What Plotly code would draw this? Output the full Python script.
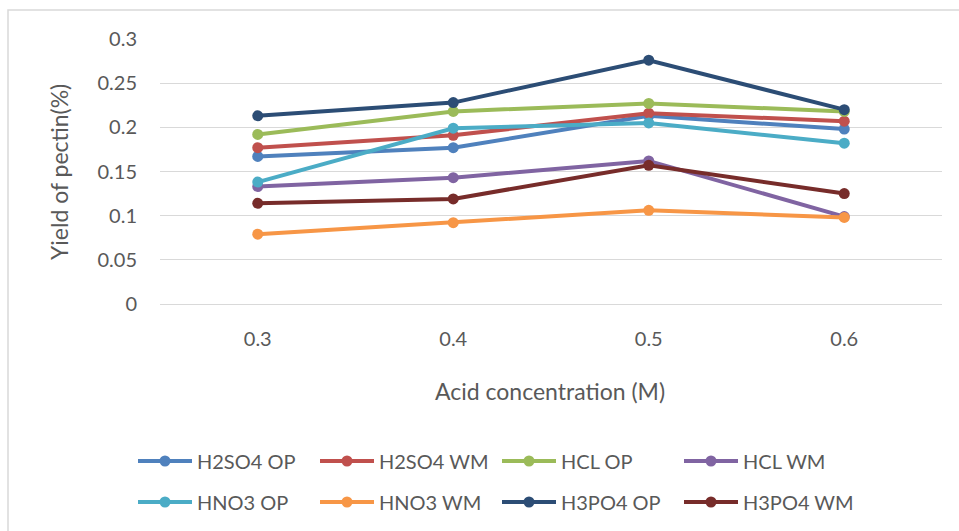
import plotly.graph_objects as go

categories = ["0.3", "0.4", "0.5", "0.6"]
series_names = ["H2SO4 OP", "H2SO4 WM", "HCL OP", "HCL WM",
                "HNO3 OP", "HNO3 WM", "H3PO4 OP", "H3PO4 WM"]
h2so4_op = [0.167, 0.177, 0.213, 0.198]
h2so4_wm = [0.177, 0.191, 0.216, 0.207]
hcl_op = [0.192, 0.218, 0.227, 0.218]
hcl_wm = [0.133, 0.143, 0.162, 0.099]
hno3_op = [0.138, 0.199, 0.205, 0.182]
hno3_wm = [0.079, 0.092, 0.106, 0.098]
h3po4_op = [0.213, 0.228, 0.276, 0.220]
h3po4_wm = [0.114, 0.119, 0.157, 0.125]
series_values = [h2so4_op, h2so4_wm, hcl_op, hcl_wm, hno3_op, hno3_wm, h3po4_op, h3po4_wm]
colors = ["#4F81BD", "#C0504D", "#9BBB59", "#8064A2",
          "#4BACC6", "#F79646", "#2C4D75", "#772C2A"]
y_ticks = [0, 0.05, 0.1, 0.15, 0.2, 0.25, 0.3]
y_tick_labels = ["0", "0.05", "0.1", "0.15", "0.2", "0.25", "0.3"]

FONT = "Lato"
TXT = "#595959"
W, H = 959, 531
L, R, T, B = 160, 17, 39, 227
pw, ph = W - L - R, H - T - B

def px_x(p):
    return (p - L) / pw

def px_y(p):
    return (H - B - p) / ph

fig = go.Figure()
for i, (name, vals, col) in enumerate(zip(series_names, series_values, colors)):
    fig.add_trace(go.Scatter(
        x=categories, y=vals, name=name, mode="lines+markers",
        line=dict(color=col, width=4),
        marker=dict(color=col, size=11),
        legend="legend" if i < 4 else "legend2",
    ))

leg_common = dict(
    orientation="h", xanchor="left", yanchor="middle",
    entrywidth=113, entrywidthmode="pixels", itemwidth=54,
    font=dict(family=FONT, size=20, color=TXT),
    bgcolor="rgba(0,0,0,0)", traceorder="normal",
    itemclick=False, itemdoubleclick=False,
)

fig.update_layout(
    width=W, height=H,
    margin=dict(l=L, r=R, t=T, b=B, autoexpand=False),
    paper_bgcolor="white", plot_bgcolor="white",
    font=dict(family=FONT, size=20, color=TXT),
    showlegend=True,
    legend=dict(x=px_x(133), y=px_y(461), **leg_common),
    legend2=dict(x=px_x(133), y=px_y(502), **leg_common),
    xaxis=dict(
        type="category", range=[-0.5, 3.5],
        showgrid=False, zeroline=False, showline=False,
        ticks="", ticklabelstandoff=21,
        tickfont=dict(family=FONT, size=20, color=TXT),
    ),
    yaxis=dict(
        range=[0, 0.3], tickvals=y_ticks, ticktext=y_tick_labels,
        showgrid=True, gridcolor="#D9D9D9", gridwidth=1,
        zeroline=True, zerolinecolor="#D9D9D9", zerolinewidth=1,
        showline=False, ticks="", ticklabelstandoff=22,
        tickfont=dict(family=FONT, size=20, color=TXT),
    ),
    annotations=[
        dict(text="Acid concentration (M)", xref="paper", yref="paper",
             x=px_x(550), y=px_y(391), showarrow=False,
             xanchor="center", yanchor="middle",
             font=dict(family=FONT, size=23, color=TXT)),
        dict(text="Yield of pectin(%)", xref="paper", yref="paper",
             x=px_x(59), y=px_y(172), showarrow=False, textangle=-90,
             xanchor="center", yanchor="middle",
             font=dict(family=FONT, size=23, color=TXT)),
    ],
    shapes=[
        dict(type="rect", xref="paper", yref="paper",
             x0=px_x(8), x1=px_x(975), y0=px_y(10), y1=px_y(545),
             line=dict(color="#D9D9D9", width=1.5), fillcolor="rgba(0,0,0,0)",
             layer="below"),
    ],
)

fig.write_html("out.html")
